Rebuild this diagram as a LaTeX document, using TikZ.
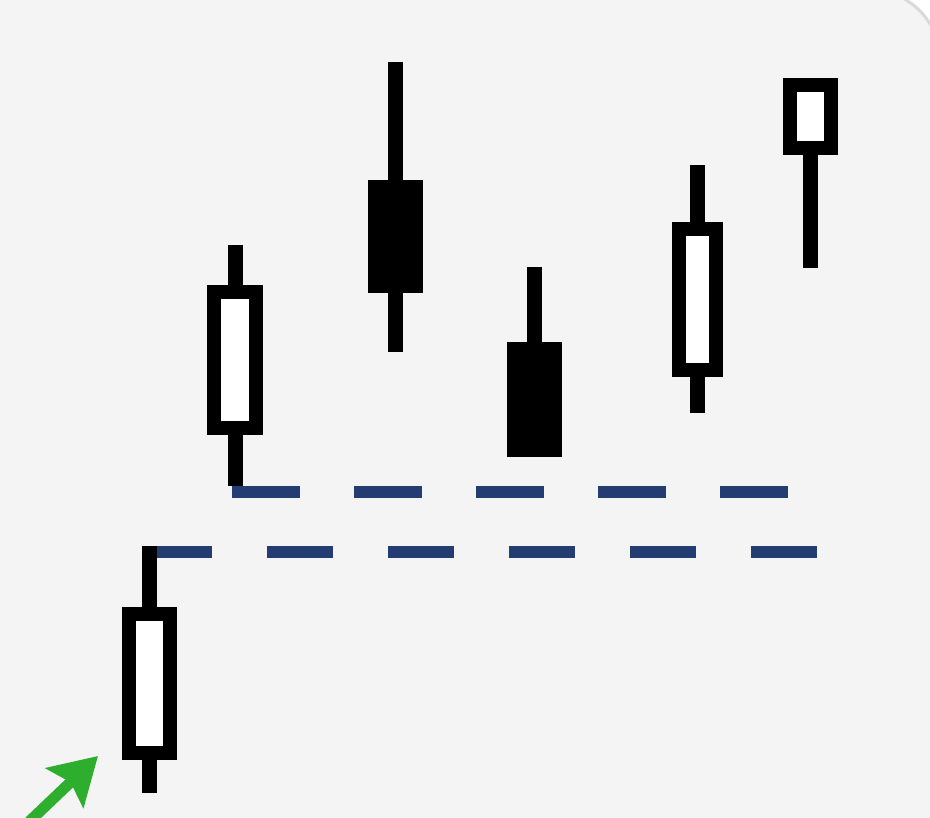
\documentclass[tikz,border=0pt]{standalone}
\usetikzlibrary{arrows.meta}
\definecolor{cardgray}{HTML}{F4F4F5}
\definecolor{cardedge}{HTML}{DADADD}
\definecolor{navy}{HTML}{233D73}
\definecolor{arrowgreen}{HTML}{2DAE2D}
\begin{document}
\begin{tikzpicture}[x=1pt,y=-1pt,
  body/.style={draw=black,line width=14pt,inner sep=0pt,outer sep=0pt,rectangle},
  upbody/.style={body,fill=white},
  downbody/.style={body,fill=black},
  wick/.style={draw=black,line width=15pt,line cap=butt},
  level/.style={draw=navy,line width=12pt,line cap=butt},
  levellow/.style={level,dash pattern=on 66pt off 55pt},
  levelhigh/.style={level,dash pattern=on 68pt off 54pt},
  trend/.style={draw=arrowgreen,line width=11pt,-{Stealth[length=46pt,width=54pt,inset=8pt]}}]
\useasboundingbox (0,0) rectangle (930,818);
\clip (0,0) rectangle (930,818);
\fill[white] (0,0) rectangle (930,818);
\filldraw[fill=cardgray,draw=cardedge,line width=3pt,rounded corners=70pt] (-200,-10) rectangle (940,1000);
% candle bodies
\node[upbody,minimum width=41pt,minimum height=139pt] (c1) at (149.5,683.5) {};
\node[upbody,minimum width=42pt,minimum height=136pt] (c2) at (235,360) {};
\node[downbody,minimum width=41pt,minimum height=99pt] (c3) at (395.5,236.5) {};
\node[downbody,minimum width=41pt,minimum height=101pt] (c4) at (534.5,399.5) {};
\node[upbody,minimum width=37pt,minimum height=141pt] (c5) at (697.5,299.5) {};
\node[upbody,minimum width=41pt,minimum height=63pt] (c6) at (810.5,116.5) {};
% wick ends
\coordinate (c1t) at (149.5,546);
\coordinate (c1b) at (149.5,793);
\coordinate (c2t) at (235,245);
\coordinate (c2b) at (235,486);
\coordinate (c3t) at (395.5,62);
\coordinate (c3b) at (395.5,352);
\coordinate (c4t) at (534.5,267);
\coordinate (c5t) at (697.5,165);
\coordinate (c5b) at (697.5,413);
\coordinate (c6b) at (810.5,268);
% level lines
\coordinate (l1s) at (146,552);
\coordinate (l1e) at (820,552);
\coordinate (l2s) at (232,492);
\coordinate (l2e) at (790,492);
\draw[levellow] (l1s) -- (l1e);
\draw[levelhigh] (l2s) -- (l2e);
% wicks
\draw[wick] (c1.north) -- (c1t);
\draw[wick] (c1.south) -- (c1b);
\draw[wick] (c2.north) -- (c2t);
\draw[wick] (c2.south) -- (c2b);
\draw[wick] (c3.north) -- (c3t);
\draw[wick] (c3.south) -- (c3b);
\draw[wick] (c4.north) -- (c4t);
\draw[wick] (c5.north) -- (c5t);
\draw[wick] (c5.south) -- (c5b);
\draw[wick] (c6.south) -- (c6b);
% redraw bodies on top of wicks
\node[upbody,minimum width=41pt,minimum height=139pt] at (c1) {};
\node[upbody,minimum width=42pt,minimum height=136pt] at (c2) {};
\node[downbody,minimum width=41pt,minimum height=99pt] at (c3) {};
\node[downbody,minimum width=41pt,minimum height=101pt] at (c4) {};
\node[upbody,minimum width=37pt,minimum height=141pt] at (c5) {};
\node[upbody,minimum width=41pt,minimum height=63pt] at (c6) {};
% green arrow
\coordinate (as) at (12,838);
\coordinate (at) at (98,756);
\draw[trend] (as) -- (at);
\end{tikzpicture}
\end{document}
